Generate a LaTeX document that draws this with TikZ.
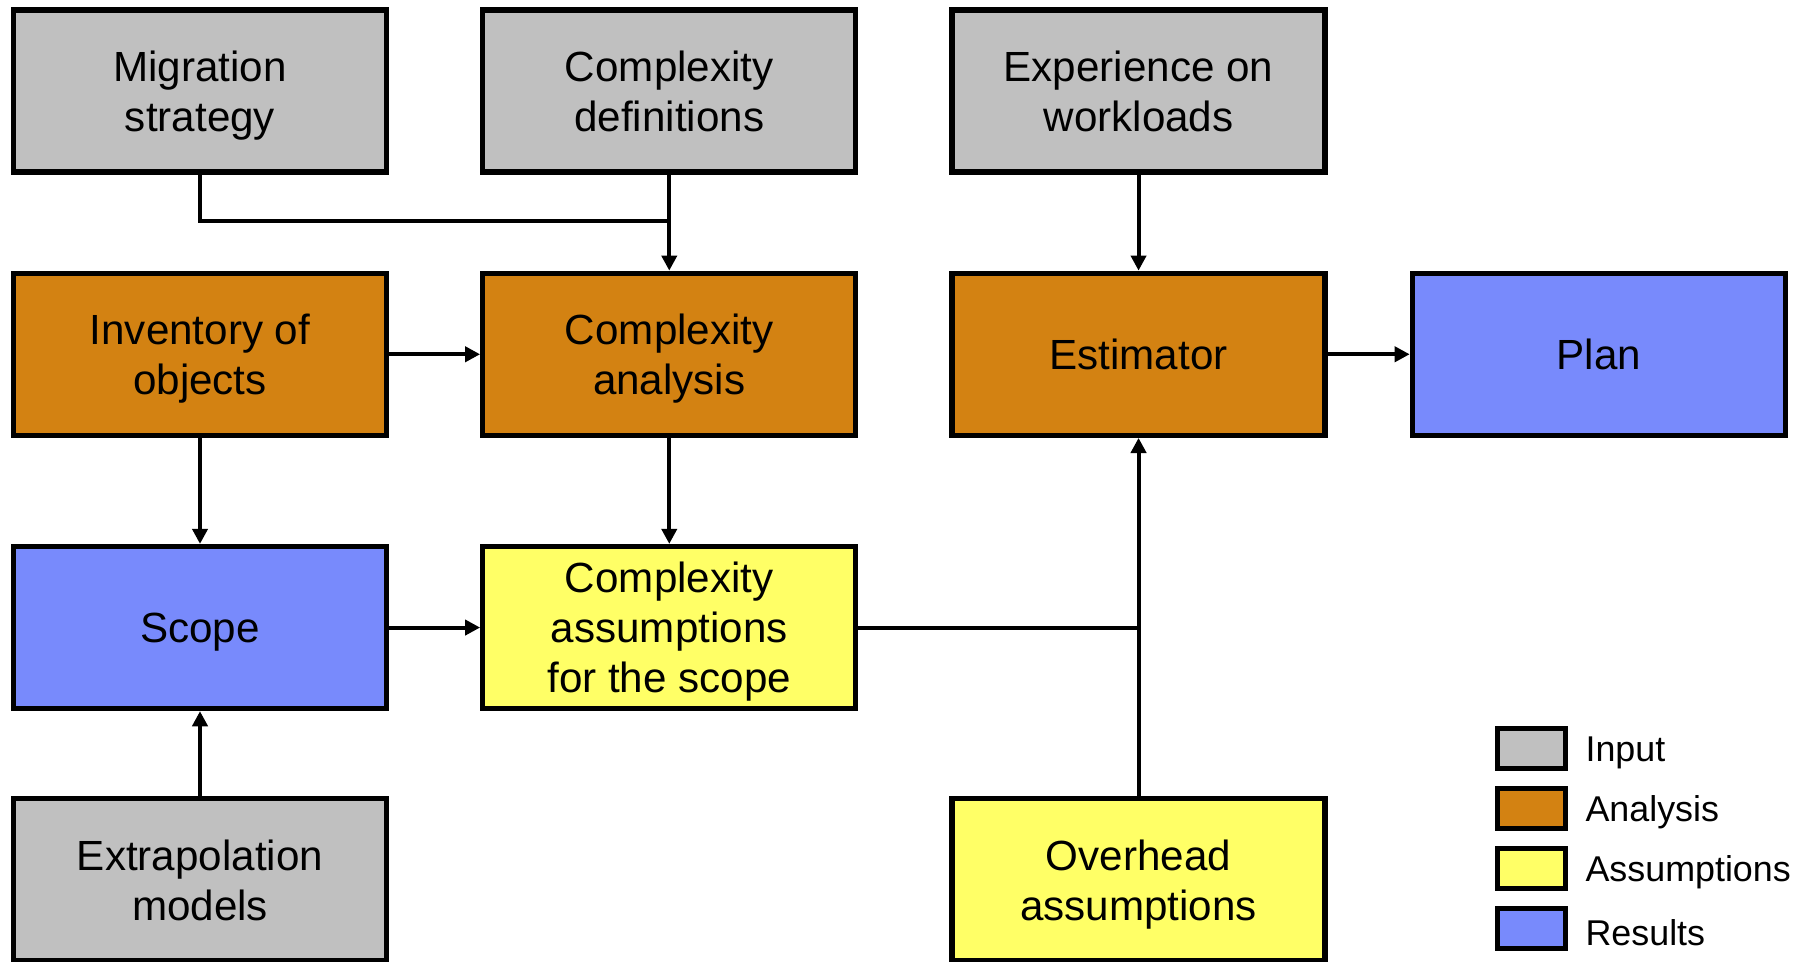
\documentclass[tikz,border=0pt]{standalone}
\usepackage{fontspec}
\setmainfont{Liberation Sans}
\usetikzlibrary{arrows.meta,positioning,calc}

\definecolor{inputgray}{RGB}{192,192,192}
\definecolor{analysisorange}{RGB}{211,130,18}
\definecolor{assumyellow}{RGB}{255,255,102}
\definecolor{resultblue}{RGB}{120,138,252}

\tikzset{
  box/.style={draw, line width=1.5pt, minimum width=3.73cm, minimum height=1.62cm,
    align=center, font=\fontsize{12}{14.2}\selectfont, text depth=0pt},
  inputbox/.style={box, fill=inputgray},
  analysisbox/.style={box, fill=analysisorange},
  assumbox/.style={box, fill=assumyellow},
  resultbox/.style={box, fill=resultblue},
  link/.style={line width=1.15pt},
  arrow/.style={link, -{Triangle[length=4.3pt,width=4.3pt]}},
  legbox/.style={draw, line width=1.5pt, minimum width=0.68cm, minimum height=0.40cm},
  legtext/.style={font=\fontsize{10.2}{12}\selectfont, anchor=west, yshift=-0.04cm}
}

\begin{document}
\begin{tikzpicture}
  \useasboundingbox (0,0) rectangle (17.99,-9.62);

  % 入力・分析・結果のボックス
  \node[inputbox] (migration) at (2.00,-0.91) {Migration\\strategy};
  \node[inputbox, right=0.91cm of migration] (cdef) {Complexity\\definitions};
  \node[inputbox, right=0.91cm of cdef] (experience) {Experience on\\workloads};

  \node[analysisbox, below=0.96cm of migration] (inventory) {Inventory of\\objects};
  \node[analysisbox, below=0.96cm of cdef] (canalysis) {Complexity\\analysis};
  \node[analysisbox, below=0.96cm of experience] (estimator) {Estimator};
  \node[resultbox, right=0.82cm of estimator] (plan) {Plan};

  \node[resultbox, below=1.06cm of inventory] (scope) {Scope};
  \node[assumbox, below=1.06cm of canalysis] (cassump) {Complexity\\assumptions\\for the scope};

  \node[inputbox, below=0.85cm of scope] (extrap) {Extrapolation\\models};
  \node[assumbox] (overhead) at (extrap -| estimator) {Overhead\\assumptions};

  % 接続線
  \coordinate (mjoin) at ($(cdef.south)+(0,-0.46)$);
  \draw[link] (migration.south) |- (mjoin);
  \draw[arrow] (cdef) -- (canalysis);
  \draw[arrow] (experience) -- (estimator);
  \draw[arrow] (inventory) -- (canalysis);
  \draw[arrow] (estimator) -- (plan);
  \draw[arrow] (inventory) -- (scope);
  \draw[arrow] (canalysis) -- (cassump);
  \draw[arrow] (scope) -- (cassump);
  \draw[arrow] (extrap) -- (scope);

  \coordinate (ajoin) at (estimator.south |- cassump.east);
  \draw[link] (cassump.east) -- (ajoin);
  \draw[arrow] (overhead) -- (estimator);

  % 凡例
  \foreach \col/\txt [count=\i] in {inputgray/Input, analysisorange/Analysis,
      assumyellow/Assumptions, resultblue/Results} {
    \node[legbox, fill=\col] (leg\i) at (15.315,{-7.485-0.6*(\i-1)}) {};
    \node[legtext, right=0.05cm of leg\i] (legtxt\i) {\txt};
  }
\end{tikzpicture}
\end{document}
